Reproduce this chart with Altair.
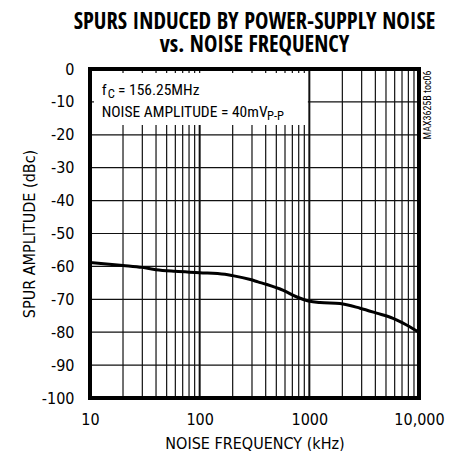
import altair as alt
import pandas as pd

# Curve data
freq_khz = [10, 20, 30, 40, 60, 100, 170, 200, 290, 340, 410, 580, 770, 980,
            1250, 1900, 2900, 4100, 5800, 7700, 10000]
spur_dbc = [-58.8, -59.7, -60.3, -61.0, -61.5, -61.9, -62.4, -62.8, -64.0, -64.7,
            -65.5, -67.3, -69.3, -70.5, -71.0, -71.3, -72.7, -74.2, -75.8, -77.8, -80.0]

# Grid / tick values
x_grid = [10, 20, 30, 40, 50, 60, 70, 80, 90,
          100, 200, 300, 400, 500, 600, 700, 800, 900,
          1000, 2000, 3000, 4000, 5000, 6000, 7000, 8000, 9000, 10000]
x_major = [10, 100, 1000, 10000]
y_ticks = [0, -10, -20, -30, -40, -50, -60, -70, -80, -90, -100]

W, H = 329, 329
FONT = "DejaVu Sans Condensed"
AFONT = "Roboto Condensed"
TFONT = "Open Sans Condensed"

xs = alt.Scale(type="log", domain=[10, 10000], nice=False)
ys = alt.Scale(domain=[-100, 0], nice=False)

X_AX = alt.Axis(values=x_major, title="NOISE FREQUENCY (kHz)",
                labelExpr="datum.value == 10000 ? '10,000' : '' + datum.value",
                grid=False, ticks=False, domain=False, labelPadding=13,
                labelFont=FONT, labelFontSize=16, labelColor="black",
                titleFont=FONT, titleFontSize=16, titleFontWeight="normal",
                titleColor="black", titlePadding=8, labelFlush=False)
Y_AX = alt.Axis(values=y_ticks, title="SPUR AMPLITUDE (dBc)",
                labelExpr="'' + datum.value",
                grid=False, ticks=False, domain=False, labelPadding=16,
                labelFont=FONT, labelFontSize=16, labelColor="black",
                titleFont=FONT, titleFontSize=16, titleFontWeight="normal",
                titleColor="black", titlePadding=4)

curve_df = pd.DataFrame({"f": freq_khz, "s": spur_dbc})
vgrid_df = pd.DataFrame({"f": x_grid, "major": [v in x_major for v in x_grid]})
hgrid_df = pd.DataFrame({"s": [v for v in y_ticks if v not in (0, -100)]})

vgrid = alt.Chart(vgrid_df).mark_rule(color="#111").encode(
    x=alt.X("f:Q", scale=xs, axis=X_AX),
    strokeWidth=alt.condition("datum.major", alt.value(2), alt.value(1.2)),
)
hgrid = alt.Chart(hgrid_df).mark_rule(color="#111", strokeWidth=1.2).encode(
    y=alt.Y("s:Q", scale=ys, axis=Y_AX),
)

box_df = pd.DataFrame({"f": [10], "f2": [970], "s": [0], "s2": [-17]})
box = alt.Chart(box_df).mark_rect(fill="white").encode(
    x=alt.X("f:Q", scale=xs, axis=X_AX), x2="f2:Q",
    y=alt.Y("s:Q", scale=ys, axis=Y_AX), y2="s2:Q",
)

stub_df = pd.DataFrame({"f": [v for v in x_grid if 10 < v < 970]})
stubs = alt.Chart(stub_df).mark_rule(color="#111", strokeWidth=1.2).encode(
    x=alt.X("f:Q", scale=xs, axis=X_AX),
    y=alt.value(0), y2=alt.value(4),
)
hstub = alt.Chart(pd.DataFrame({"s": [-10]})).mark_rule(color="#111", strokeWidth=1.2).encode(
    y=alt.Y("s:Q", scale=ys, axis=Y_AX),
    x=alt.value(0), x2=alt.value(4),
)

line = alt.Chart(curve_df).mark_line(color="black", strokeWidth=3, interpolate="monotone").encode(
    x=alt.X("f:Q", scale=xs, axis=X_AX),
    y=alt.Y("s:Q", scale=ys, axis=Y_AX),
)

frame = alt.Chart(pd.DataFrame({"a": [0]})).mark_rect(
    filled=False, stroke="black", strokeWidth=4).encode(
    x=alt.value(0), x2=alt.value(W), y=alt.value(0), y2=alt.value(H),
)

def txt(s, x, y, size=15.5, **kw):
    return alt.Chart(pd.DataFrame({"t": [s]})).mark_text(
        font=AFONT, fontSize=size, color="black", align="left", baseline="alphabetic", **kw
    ).encode(text="t:N", x=alt.value(x), y=alt.value(y))

ann = [
    txt("f", 11.7, 26),
    txt("C", 17.7, 28.7, size=12.5),
    txt("= 156.25MHz", 28, 26),
    txt("NOISE AMPLITUDE = 40mV", 11.7, 48.3),
    txt("P-P", 177, 51, size=12.5),
]

side = alt.Chart(pd.DataFrame({"t": ["MAX3625B toc06"]})).mark_text(
    font=AFONT, fontSize=10, color="black", angle=270, align="center", baseline="middle"
).encode(text="t:N", x=alt.value(W + 9), y=alt.value(36))

chart = alt.layer(vgrid, hgrid, box, stubs, hstub, line, frame, *ann, side).properties(
    width=W, height=H,
    title=alt.TitleParams(
        text=["SPURS INDUCED BY POWER-SUPPLY NOISE", "vs. NOISE FREQUENCY"],
        font=TFONT, fontSize=22.5, fontWeight="bold", color="black",
        anchor="middle", offset=5, lineHeight=22.5,
    ),
    autosize=alt.AutoSizeParams(type="none"),
    padding={"left": 82, "top": 61, "right": 33, "bottom": 53},
).configure_view(stroke=None).configure(background="white")

chart.save("out.html", embed_options={"renderer": "svg", "actions": False})
